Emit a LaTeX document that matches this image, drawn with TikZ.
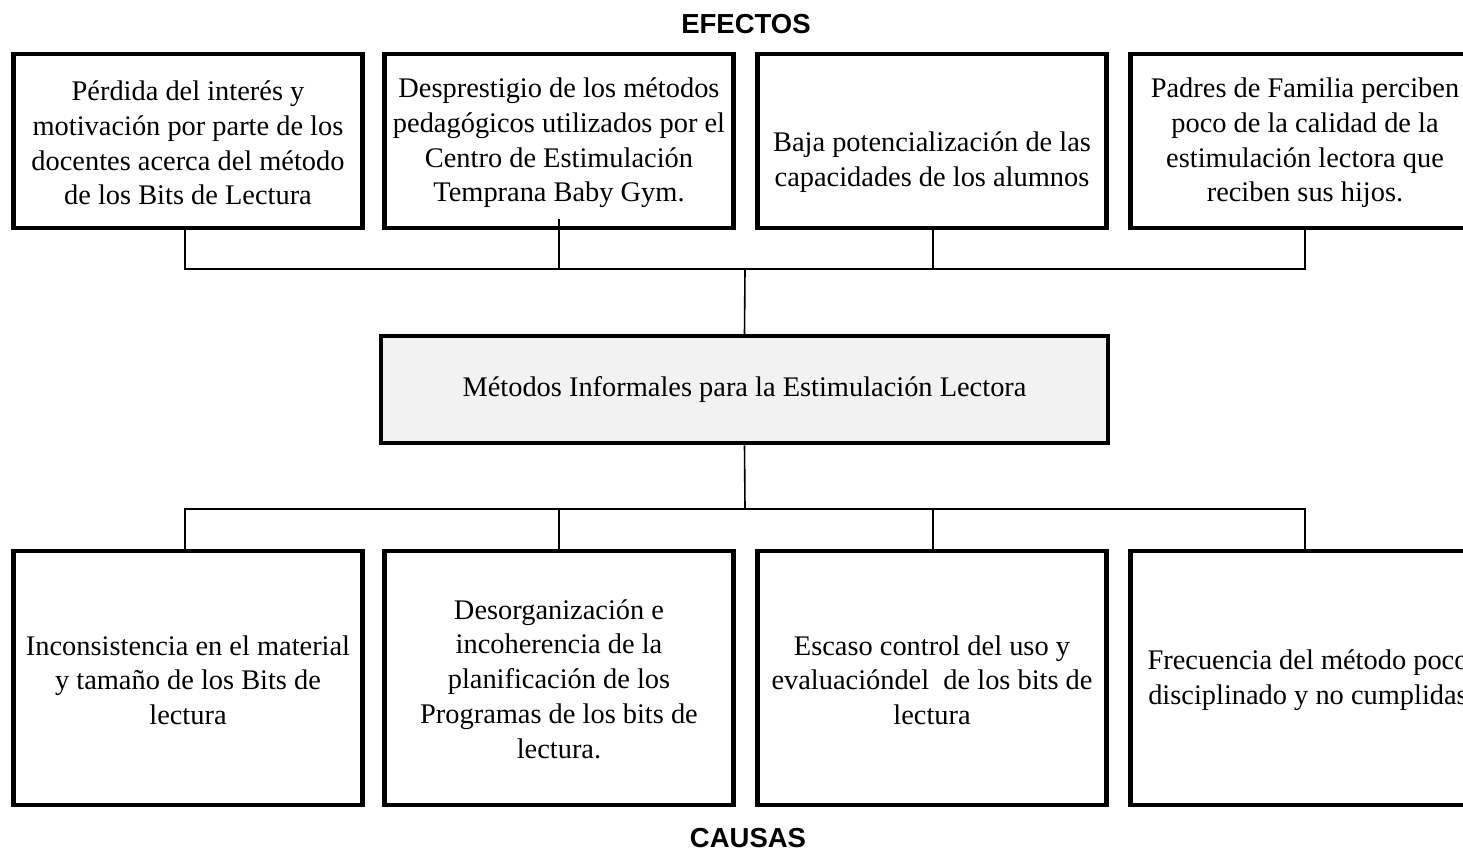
\documentclass[tikz,border=0pt]{standalone}
\usepackage{fontspec}
\setmainfont{Liberation Serif}
\newfontfamily\headfont{Liberation Sans}
\begin{document}
\begin{tikzpicture}[x=1pt,y=-1pt,
  boxtxt/.style={font=\fontsize{28.4}{34.7}\selectfont, align=center},
  topbox/.style={draw, line width=4.5pt, minimum width=349pt, minimum height=174pt, inner sep=0pt},
  botbox/.style={draw, line width=4.5pt, minimum width=349pt, minimum height=254pt, inner sep=0pt},
  midbox/.style={draw, line width=4.5pt, fill=midgray, minimum width=727pt, minimum height=107pt, inner sep=0pt},
  head/.style={font=\headfont\bfseries\fontsize{27.5}{30}\selectfont},
  conn/.style={line width=1.6pt}
]
\definecolor{midgray}{HTML}{F2F2F2}
\useasboundingbox (0,0) rectangle (1463,853);
\clip (0,0) rectangle (1463,853);
\fill[white] (0,0) rectangle (1463,853);

% headings
\node[head] (efectos) at (746,24) {EFECTOS};
\node[head] (causas) at (748,838) {CAUSAS};

% top boxes
\node[topbox] (t1) at (188,141) {};
\node[topbox] (t2) at (559,141) {};
\node[topbox] (t3) at (932,141) {};
\node[topbox] (t4) at (1305,141) {};
\node[boxtxt] (t1txt) at (188,143) {Pérdida del interés y\\motivación por parte de los\\docentes acerca del método\\de los Bits de Lectura};
\node[boxtxt] (t2txt) at (559,143) {Desprestigio de los métodos\\pedagógicos utilizados por el\\Centro de Estimulación\\Temprana Baby Gym.};
\node[boxtxt] (t3txt) at (932,162) {Baja potencialización de las\\capacidades de los alumnos};
\node[boxtxt] (t4txt) at (1305,143) {Padres de Familia perciben\\poco de la calidad de la\\estimulación lectora que\\reciben sus hijos.};

% center box
\node[midbox] (m) at (744.5,389.5) {};
\node[boxtxt] (mtxt) at (744.5,390) {Métodos Informales para la Estimulación Lectora};

% bottom boxes
\node[botbox] (b1) at (188,678) {};
\node[botbox] (b2) at (559,678) {};
\node[botbox] (b3) at (932,678) {};
\node[botbox] (b4) at (1305,678) {};
\node[boxtxt] (b1txt) at (188,680) {Inconsistencia en el material\\y tamaño de los Bits de\\lectura};
\node[boxtxt] (b2txt) at (559,679) {Desorganización e\\incoherencia de la\\planificación de los\\Programas de los bits de\\lectura.};
\node[boxtxt] (b3txt) at (932,680) {Escaso control del uso y\\evaluacióndel\ \ de los bits de\\lectura};
\node[boxtxt] (b4txt) at (1308,680) {Frecuencia del método poco\\disciplinado y no cumplidas};

% connector coordinates
\coordinate (ht) at (745,269);
\coordinate (hb) at (745,509);
\coordinate (t2in) at (559,219);

% top connectors
\draw[conn] ([xshift=-3pt]t1.south) |- (ht);
\draw[conn] (t2in) |- (ht);
\draw[conn] ([xshift=1pt]t3.south) |- (ht);
\draw[conn] (t4.south) |- (ht);
\draw[conn] (ht) -- (m.north);

% bottom connectors
\draw[conn] (m.south) -- (hb);
\draw[conn] ([xshift=-3pt]b1.north) |- (hb);
\draw[conn] (b2.north) |- (hb);
\draw[conn] ([xshift=1pt]b3.north) |- (hb);
\draw[conn] (b4.north) |- (hb);
\end{tikzpicture}
\end{document}
